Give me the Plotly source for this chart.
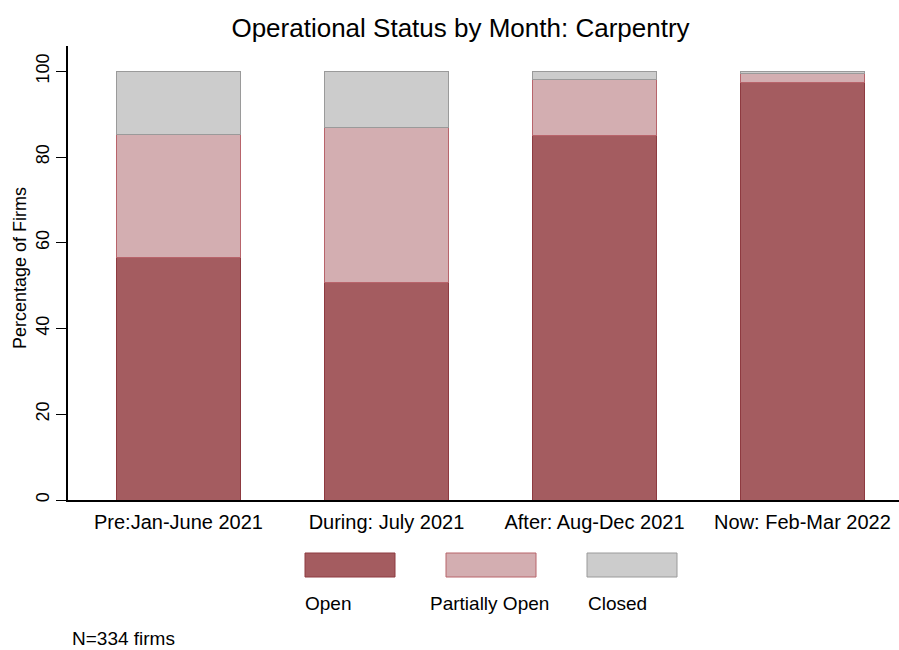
import plotly.graph_objects as go

categories = ["Pre:Jan-June 2021", "During: July 2021", "After: Aug-Dec 2021", "Now: Feb-Mar 2022"]
open_pct = [56.5, 50.7, 85.0, 97.5]
partial_pct = [28.8, 36.2, 13.0, 2.0]
closed_pct = [14.7, 13.1, 2.0, 0.5]
series_names = ["Open", "Partially Open", "Closed"]
y_ticks = [0, 20, 40, 60, 80, 100]

fills = ["#A45C60", "#D3AEB1", "#CCCCCC"]
lines = ["#8E3A40", "#B8646B", "#9A9A9A"]

W, H = 899, 650
L, R, T, B = 68, 0, 46, 150
pw, ph = W - L - R, H - T - B

def px(x):
    return (x - L) / pw

def py(y):
    return (H - B - y) / ph

fig = go.Figure()
xs = list(range(len(categories)))
for name, vals, fc, lc in zip(series_names, [open_pct, partial_pct, closed_pct], fills, lines):
    fig.add_trace(go.Bar(x=xs, y=vals, name=name, width=0.594,
                         marker=dict(color=fc, line=dict(color=lc, width=1)),
                         showlegend=False))

fig.update_layout(
    barmode="stack",
    width=W, height=H,
    margin=dict(l=L, r=R, t=T, b=B),
    paper_bgcolor="white", plot_bgcolor="white",
    font=dict(family="Liberation Sans, Arial, sans-serif", color="black"),
    title=dict(text="Operational Status by Month: Carpentry", x=460.5 / W, xref="container",
               xanchor="center", y=1 - 28 / H, yanchor="middle",
               font=dict(size=26, color="black")),
    xaxis=dict(range=[-0.531, 3.464], tickvals=xs, ticktext=categories,
               showline=True, linecolor="black", linewidth=1.5, showgrid=False, zeroline=False,
               ticks="outside", ticklen=3, tickcolor="rgba(0,0,0,0)",
               tickfont=dict(size=20)),
    yaxis=dict(range=[0, 105.9], tickvals=y_ticks, showline=True, linecolor="black", linewidth=1.5,
               showgrid=False, zeroline=False, ticks="outside", ticklen=10, tickwidth=1.2,
               tickcolor="black", tickangle=-90, tickfont=dict(size=18)),
)

# y axis title
fig.add_annotation(text="Percentage of Firms", x=px(20), y=py(268), xref="paper", yref="paper",
                   textangle=-90, showarrow=False, font=dict(size=18), xanchor="center", yanchor="middle")

# legend drawn as keys above labels
key_left = [305, 446, 587]
label_left = [303, 428, 586]
for name, fc, lc, kx, lx in zip(series_names, fills, lines, key_left, label_left):
    fig.add_shape(type="rect", xref="paper", yref="paper",
                  x0=px(kx), x1=px(kx + 90), y0=py(577), y1=py(553),
                  fillcolor=fc, line=dict(color=lc, width=1))
    fig.add_annotation(text=name, x=px(lx), y=py(603), xref="paper", yref="paper",
                       showarrow=False, xanchor="left", yanchor="middle", font=dict(size=19))

fig.add_annotation(text="N=334 firms", x=px(70), y=py(638), xref="paper", yref="paper",
                   showarrow=False, xanchor="left", yanchor="middle", font=dict(size=19))

fig.write_html("out.html", config={"displayModeBar": False},
               post_script="document.body.style.margin='0';document.body.style.overflow='hidden';")
